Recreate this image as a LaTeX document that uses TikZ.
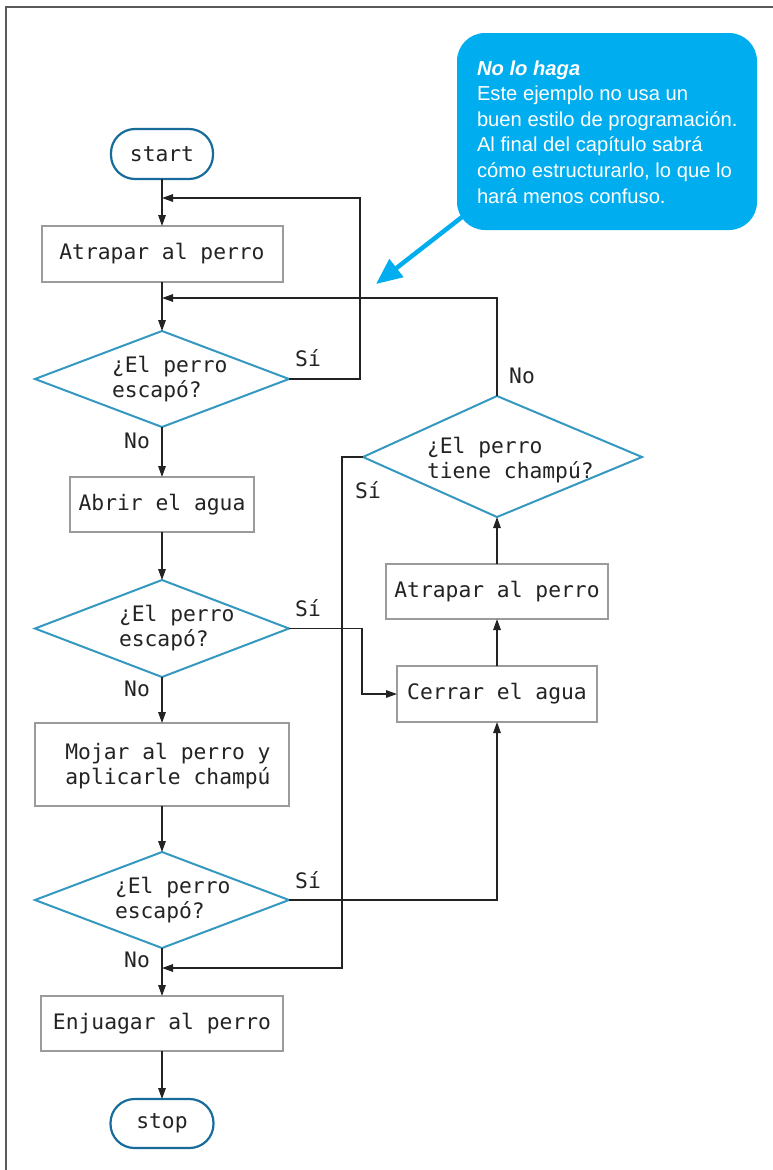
\documentclass[tikz,border=0pt]{standalone}
\usepackage{fontspec}
\usetikzlibrary{arrows.meta,shapes.geometric}
\newfontfamily\flowfont{DejaVu Sans Mono}
\newfontfamily\notefont{Liberation Sans}
\definecolor{boxgray}{RGB}{155,155,155}
\definecolor{diamblue}{RGB}{52,152,192}
\definecolor{termblue}{RGB}{24,108,155}
\definecolor{inkcol}{RGB}{35,35,35}
\definecolor{notecyan}{RGB}{0,174,239}
\definecolor{framegray}{RGB}{90,90,90}
\begin{document}
\begin{tikzpicture}[x=1pt,y=-1pt,
  every node/.style={inner sep=0pt,outer sep=0pt},
  flowtext/.style={font=\flowfont\fontsize{21.3}{25}\selectfont,text=inkcol},
  term/.style={flowtext,draw=termblue,line width=2.2pt,rounded corners=24pt,fill=white},
  procbox/.style={flowtext,draw=boxgray,line width=2pt,fill=white,align=center},
  decision/.style={shape=diamond,draw=diamblue,line width=2pt},
  dlabel/.style={flowtext,anchor=base west},
  branch/.style={flowtext},
  conn/.style={draw=inkcol,line width=1.4pt},
  arr/.style={conn,-{Triangle[length=11pt,width=7.5pt]}}
]
\useasboundingbox (0,0) rectangle (773,1170);

% page frame
\draw[framegray,line width=1.6pt] (6,1170) -- (6,7) -- (773,7);

% note bubble with its pointer
\node[fill=notecyan,rounded corners=28pt,minimum width=300pt,minimum height=197pt] (note) at (607,131.5) {};
\coordinate (notefoot) at (462,217);
\coordinate (notetip) at (376,284);
\draw[notecyan,line width=4.5pt,-{Triangle[length=26pt,width=22pt]}] (notefoot) -- (notetip);
\node[anchor=base west,text=white] (notetext) at (477,75)
  {\parbox[t]{290pt}{\notefont\fontsize{20.2}{25.6}\selectfont
   \textbf{\textit{No lo haga}}\\
   Este ejemplo no usa un\\
   buen estilo de programación.\\
   Al final del capítulo sabrá\\
   cómo estructurarlo, lo que lo\\
   hará menos confuso.}};

% main column
\node[term,minimum width=102pt,minimum height=50pt] (start) at (162,154) {start};
\node[procbox,minimum width=241pt,minimum height=56pt] (catch1) at (162,254) {Atrapar al perro};
\node[decision,minimum width=254pt,minimum height=96pt] (esc1) at (162,379) {};
\node[dlabel] (esc1t) at (112,372) {\parbox[t]{200pt}{¿El perro\\escapó?}};
\node[procbox,minimum width=184pt,minimum height=55pt] (open) at (162,504.5) {Abrir el agua};
\node[decision,minimum width=254pt,minimum height=97pt] (esc2) at (162,628.5) {};
\node[dlabel] (esc2t) at (119,621) {\parbox[t]{200pt}{¿El perro\\escapó?}};
\node[procbox,minimum width=254pt,minimum height=83pt] (wet) at (162,764.5) {};
\node[flowtext,align=center] (wett) at (168,766) {Mojar al perro y\\aplicarle champú};
\node[decision,minimum width=254pt,minimum height=96pt] (esc3) at (162,900) {};
\node[dlabel] (esc3t) at (115,893) {\parbox[t]{200pt}{¿El perro\\escapó?}};
\node[procbox,minimum width=242pt,minimum height=55pt] (rinse) at (162,1023.5) {Enjuagar al perro};
\node[term,minimum width=103pt,minimum height=49pt] (stop) at (162,1123.5) {stop};

% right column
\node[procbox,minimum width=200pt,minimum height=56pt] (close) at (497,694) {Cerrar el agua};
\node[procbox,minimum width=222pt,minimum height=55pt] (catch2) at (497,591.5) {Atrapar al perro};
\coordinate (shN) at (497,396);
\coordinate (shE) at (642,457);
\coordinate (shS) at (497,517);
\coordinate (shW) at (363,457);
\draw[draw=diamblue,line width=2pt] (shN) -- (shE) -- (shS) -- (shW) -- cycle;
\node[dlabel] (shampt) at (427,453) {\parbox[t]{200pt}{¿El perro\\tiene champú?}};

% junction points on the main line
\coordinate (join1) at (162,198);
\coordinate (join2) at (162,298);
\coordinate (join3) at (162,968);

% connectors
\draw[arr] (start) -- (catch1);
\draw[arr] (catch1) -- (esc1);
\draw[arr] (esc1) -- (open);
\draw[arr] (open) -- (esc2);
\draw[arr] (esc2) -- (wet);
\draw[arr] (wet) -- (esc3);
\draw[arr] (esc3) -- (rinse);
\draw[arr] (rinse) -- (stop);

\draw[arr] (esc1.east) -- ++(71,0) |- (join1);
\draw[arr] (shN) |- (join2);
\draw[arr] (esc2.east) -- ++(73,0) |- (close.west);
\draw[arr] (esc3.east) -| (close.south);
\draw[arr] (close) -- (catch2);
\draw[arr] (catch2.north) -- (shS);
\draw[arr] (shW) -- ++(-21,0) |- (join3);

% branch labels
\node[branch] (y1) at (308,358) {Sí};
\node[branch] (n1) at (137,441) {No};
\node[branch] (y2) at (308,608) {Sí};
\node[branch] (n2) at (137,689) {No};
\node[branch] (y3) at (308,880) {Sí};
\node[branch] (n3) at (137,960) {No};
\node[branch] (y4) at (368,490) {Sí};
\node[branch] (n4) at (522,376) {No};
\end{tikzpicture}
\end{document}
